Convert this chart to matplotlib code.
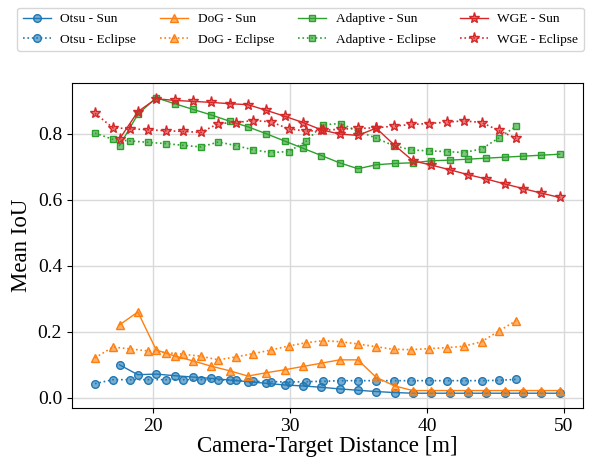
import numpy as np
import matplotlib
matplotlib.use("Agg")
import matplotlib.pyplot as plt
from matplotlib.colors import to_rgba
from matplotlib.ticker import MultipleLocator

plt.rcParams["font.family"] = ["Liberation Serif", "DejaVu Serif"]

# distances [m]
distSun = [17.56, 18.90, 20.24, 21.58, 22.91, 24.25, 25.59, 26.93, 28.27, 29.61,
           30.95, 32.29, 33.62, 34.96, 36.30, 37.64, 38.98, 40.32, 41.66, 43.00,
           44.33, 45.67, 47.01, 48.35, 49.69]
distEclipse = [15.77, 17.08, 18.36, 19.66, 20.94, 22.22, 23.50, 24.78, 26.06, 27.34,
               28.62, 29.90, 31.18, 32.39, 33.70, 35.00, 36.28, 37.56, 38.84, 40.14,
               41.43, 42.68, 43.99, 45.24, 46.52]

otsuSun = [0.100, 0.070, 0.072, 0.067, 0.063, 0.059, 0.054, 0.049, 0.044, 0.039,
           0.036, 0.032, 0.027, 0.023, 0.019, 0.016, 0.014, 0.014, 0.014, 0.014,
           0.014, 0.014, 0.014, 0.014, 0.014]
otsuEclipse = [0.043, 0.055, 0.055, 0.055, 0.055, 0.055, 0.055, 0.054, 0.053, 0.050,
               0.049, 0.048, 0.049, 0.050, 0.052, 0.052, 0.052, 0.052, 0.052, 0.052,
               0.052, 0.052, 0.052, 0.053, 0.056]

dogSun = [0.221, 0.260, 0.145, 0.127, 0.112, 0.096, 0.082, 0.066, 0.076, 0.085,
          0.095, 0.105, 0.115, 0.115, 0.062, 0.036, 0.022, 0.022, 0.022, 0.022,
          0.022, 0.022, 0.022, 0.022, 0.022]
dogEclipse = [0.121, 0.154, 0.148, 0.142, 0.137, 0.132, 0.126, 0.115, 0.124, 0.134,
              0.145, 0.157, 0.167, 0.173, 0.170, 0.163, 0.155, 0.147, 0.146, 0.149,
              0.152, 0.156, 0.170, 0.202, 0.234]

adaptiveSun = [0.764, 0.859, 0.909, 0.891, 0.874, 0.857, 0.838, 0.821, 0.800, 0.778,
               0.756, 0.734, 0.712, 0.694, 0.706, 0.710, 0.712, 0.718, 0.720, 0.723,
               0.726, 0.729, 0.732, 0.735, 0.738]
adaptiveEclipse = [0.802, 0.783, 0.778, 0.774, 0.770, 0.765, 0.760, 0.775, 0.764, 0.751,
                   0.743, 0.746, 0.777, 0.827, 0.831, 0.807, 0.787, 0.764, 0.751, 0.748,
                   0.746, 0.743, 0.754, 0.787, 0.823]

wgeSun = [0.784, 0.867, 0.906, 0.901, 0.898, 0.895, 0.891, 0.888, 0.871, 0.853,
          0.834, 0.812, 0.799, 0.795, 0.817, 0.765, 0.718, 0.705, 0.691, 0.676,
          0.663, 0.648, 0.634, 0.620, 0.607]
wgeEclipse = [0.862, 0.818, 0.815, 0.812, 0.809, 0.807, 0.804, 0.831, 0.834, 0.840,
              0.836, 0.815, 0.808, 0.810, 0.814, 0.816, 0.818, 0.823, 0.828, 0.831,
              0.835, 0.839, 0.834, 0.810, 0.786]

methods = [
    ("Otsu", otsuSun, otsuEclipse, "tab:blue", "o", 5.5),
    ("DoG", dogSun, dogEclipse, "tab:orange", "^", 5.5),
    ("Adaptive", adaptiveSun, adaptiveEclipse, "tab:green", "s", 5),
    ("WGE", wgeSun, wgeEclipse, "tab:red", "*", 8),
]

fig, ax = plt.subplots(figsize=(5.93, 4.61), dpi=100)
fig.subplots_adjust(left=0.121, right=0.983, top=0.82, bottom=0.115)

for name, sun, eclipse, color, marker, ms in methods:
    face = to_rgba(color, 0.6)
    ax.plot(distSun, sun, "-", color=color, lw=1, marker=marker, ms=ms,
            mfc=face, mec=color, mew=1, label=name + " - Sun")
    ax.plot(distEclipse, eclipse, ":", color=color, lw=1.2, marker=marker, ms=ms,
            mfc=face, mec=color, mew=1, label=name + " - Eclipse")

ax.xaxis.set_major_locator(MultipleLocator(10))
ax.grid(True, color="#d9d9d9", lw=1)
ax.set_axisbelow(True)
ax.set_xlabel("Camera-Target Distance [m]", fontsize=16.5, labelpad=1)
ax.set_ylabel("Mean IoU", fontsize=16.5)
ax.tick_params(labelsize=14)

fig.legend(loc="upper center", ncol=4, bbox_to_anchor=(0.507, 0.998),
           fontsize=9.6, handlelength=2.1, handletextpad=0.72,
           columnspacing=1.8, labelspacing=0.6, edgecolor="#cccccc")

plt.savefig("out.png")
